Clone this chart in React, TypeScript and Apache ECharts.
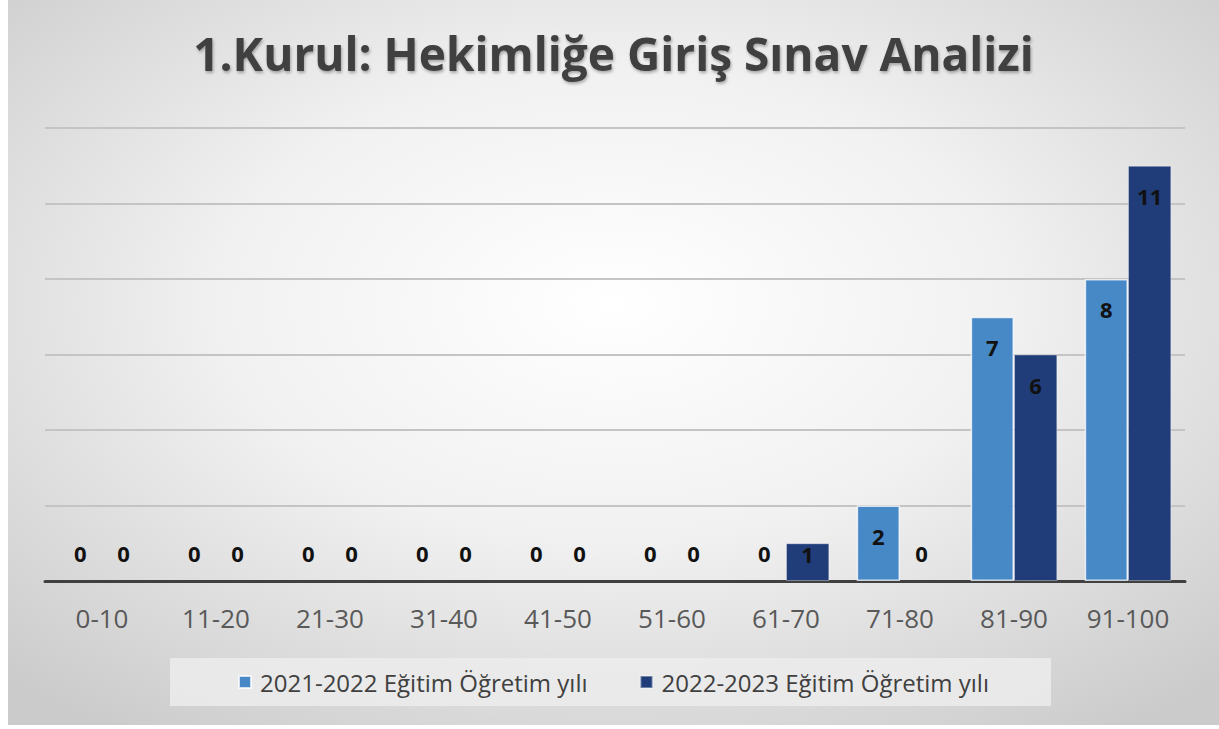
import React, { useEffect, useRef } from "react";
import * as echarts from "echarts";

const categories = ["0-10", "11-20", "21-30", "31-40", "41-50", "51-60", "61-70", "71-80", "81-90", "91-100"];
const seriesNames = ["2021-2022 Eğitim Öğretim yılı", "2022-2023 Eğitim Öğretim yılı"];
const values2021 = [0, 0, 0, 0, 0, 0, 0, 2, 7, 8];
const values2022 = [0, 0, 0, 0, 0, 0, 1, 0, 6, 11];
const titleText = "1.Kurul: Hekimliğe Giriş Sınav Analizi";

const FONT = "'Open Sans', 'Noto Sans', sans-serif";

function labelFor(v: number) {
  if (v === 0) return { position: "top", distance: 17 };
  if (v === 1) return { position: "insideTop", distance: 0 };
  return { position: "insideTop", distance: 19 };
}

function toData(vals: number[]) {
  return vals.map((v) => ({
    value: v,
    label: labelFor(v),
    itemStyle: v === 0 ? { borderWidth: 0 } : {},
  }));
}

export default function App() {
  const ref = useRef<HTMLDivElement>(null);
  useEffect(() => {
    if (!ref.current) return;
    const chart = echarts.init(ref.current, undefined, { renderer: "svg" });
    const labelBase = {
      show: true,
      color: "#111111",
      fontFamily: FONT,
      fontWeight: "bold",
      fontSize: 22,
    };
    chart.setOption({
      animation: false,
      backgroundColor: new echarts.graphic.RadialGradient(0.5, 0.42, 0.72, [
        { offset: 0, color: "#ffffff" },
        { offset: 0.45, color: "#f1f1f1" },
        { offset: 1, color: "#cbcbcb" },
      ]),
      title: {
        text: titleText,
        left: "center",
        top: 25,
        textStyle: {
          fontFamily: FONT,
          fontWeight: "bold",
          fontSize: 46,
          color: "#404040",
          textShadowColor: "rgba(0,0,0,0.3)",
          textShadowBlur: 3,
          textShadowOffsetX: 1,
          textShadowOffsetY: 2,
        },
      },
      legend: {
        data: seriesNames,
        bottom: 19,
        left: "center",
        itemWidth: 12,
        itemHeight: 12,
        itemGap: 52,
        icon: "rect",
        backgroundColor: "rgba(236,236,236,0.85)",
        padding: [12, 62, 12, 68],
        textStyle: { fontFamily: FONT, fontSize: 24, color: "#404040", padding: [0, 0, 0, 4] },
      },
      grid: { left: 37, right: 34, top: 128, bottom: 144 },
      xAxis: {
        type: "category",
        data: categories,
        axisLine: { lineStyle: { color: "#404040", width: 3 } },
        axisTick: { show: false },
        axisLabel: { fontFamily: FONT, fontSize: 26, color: "#595959", margin: 24 },
      },
      yAxis: {
        type: "value",
        min: 0,
        max: 12,
        interval: 2,
        axisLabel: { show: false },
        axisLine: { show: false },
        axisTick: { show: false },
        splitLine: { lineStyle: { color: "#c4c4c4", width: 2 } },
      },
      series: [
        {
          name: seriesNames[0],
          type: "bar",
          data: toData(values2021),
          barGap: "0%",
          barCategoryGap: "24%",
          itemStyle: { color: "#4788c7", borderColor: "rgba(255,255,255,0.75)", borderWidth: 1.5 },
          label: labelBase,
        },
        {
          name: seriesNames[1],
          type: "bar",
          data: toData(values2022),
          itemStyle: { color: "#203c79", borderColor: "rgba(255,255,255,0.35)", borderWidth: 1 },
          label: labelBase,
        },
      ],
    });
    return () => chart.dispose();
  }, []);
  return (
    <div
      ref={ref}
      style={{ position: "absolute", left: 8, top: 0, width: 1211, height: 725 }}
    />
  );
}
